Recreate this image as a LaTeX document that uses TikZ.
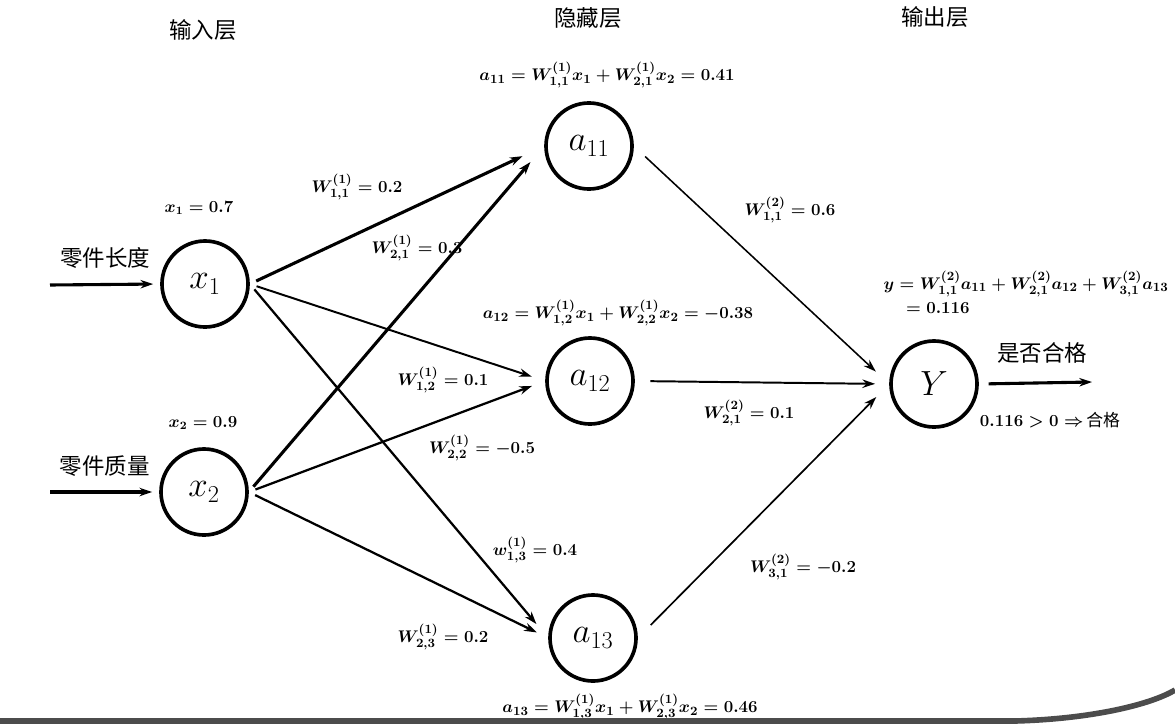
\documentclass[tikz,border=0pt]{standalone}
\usepackage{amsmath}
\usepackage{fontspec}
\newfontfamily\cjk{Noto Sans CJK SC}
\usetikzlibrary{arrows.meta}

\begin{document}
\begin{tikzpicture}[x=0.025cm, y=-0.025cm,
    neuron/.style={draw, circle, line width=2.6pt, minimum size=2.15cm, inner sep=0pt, font=\fontsize{24}{28}\selectfont},
    lbl/.style={inner sep=1pt, font=\fontsize{13}{15}\selectfont\boldmath},
    small/.style={inner sep=1pt, font=\fontsize{11.7}{14}\selectfont\boldmath},
    title/.style={inner sep=1pt, font=\cjk\fontsize{16}{19}\selectfont},
    link/.style={-{Stealth[length=9pt,width=6pt]}, line width=1.6pt}]

\useasboundingbox (0,0) rectangle (1175,723);

% layer titles
\node[title] (tin)  at (203,30) {输入层};
\node[title] (thid) at (588,18) {隐藏层};
\node[title] (tout) at (935,17) {输出层};

% neurons
\node[neuron] (x1)  at (205,284) {$x_1$};
\node[neuron] (x2)  at (204,492) {$x_2$};
\node[neuron] (a11) at (589,146) {$a_{11}$};
\node[neuron] (a12) at (590,381) {$a_{12}$};
\node[neuron] (a13) at (593,638) {$a_{13}$};
\node[neuron] (Y)   at (934,384) {$Y$};

% inputs and output
\coordinate (in1) at (50,285);
\coordinate (in2) at (50,492);
\coordinate (out) at (1092,382);
\draw[link, line width=2.2pt, shorten >=5pt] (in1) -- (x1.west) node[title, midway, above=9pt] (l1) {零件长度};
\draw[link, line width=2.2pt, shorten >=5pt] (in2) -- (x2.west) node[title, midway, above=9pt] (l2) {零件质量};
\draw[link, line width=2.2pt, shorten <=7pt] (Y.east) -- (out);
\node[title] (res) at (1042,353) {是否合格};
\node[small, font=\fontsize{12}{14}\selectfont\boldmath] (dec) at (1050,420) {$0.116>0\Rightarrow$\,{\cjk 合格}};

% input layer -> hidden layer
\draw[link, line width=2.2pt, shorten <=5pt, shorten >=17pt] (x1.east) -- (a11.west);
\draw[link, line width=1.4pt, shorten <=5pt, shorten >=10pt] (x1.east) -- (a12.west);
\draw[link, line width=1.6pt, shorten <=5pt, shorten >=13pt] (x1.east) -- (a13.west);
\draw[link, line width=2.2pt, shorten <=5pt, shorten >=15pt] (x2.east) -- (a11.west);
\draw[link, line width=1.6pt, shorten <=5pt, shorten >=10pt] (x2.east) -- (a12.west);
\draw[link, line width=1.6pt, shorten <=5pt, shorten >=9pt] (x2.east) -- (a13.west);

% hidden layer -> output layer
\draw[link, line width=1.1pt, shorten <=11pt, shorten >=13pt] (a11.east) -- (Y.west);
\draw[link, line width=1.4pt, shorten <=11pt, shorten >=10pt] (a12.east) -- (Y.west);
\draw[link, line width=1.2pt, shorten <=13pt, shorten >=13pt] (a13.east) -- (Y.west);

% values and weights
\node[small] (vx1) at (199,208) {$x_1 = 0.7$};
\node[small] (vx2) at (203,423) {$x_2 = 0.9$};
\node[lbl] (w111) at (357,187) {$W^{(1)}_{1,1} = 0.2$};
\node[lbl] (w121) at (417,248) {$W^{(1)}_{2,1} = 0.3$};
\node[lbl] (w112) at (443,380) {$W^{(1)}_{1,2} = 0.1$};
\node[lbl] (w122) at (482,448) {$W^{(1)}_{2,2} = -0.5$};
\node[lbl] (w113) at (535,550) {$w^{(1)}_{1,3} = 0.4$};
\node[lbl] (w123) at (443,637) {$W^{(1)}_{2,3} = 0.2$};
\node[lbl] (w211) at (790,210) {$W^{(2)}_{1,1} = 0.6$};
\node[lbl] (w221) at (749,413) {$W^{(2)}_{2,1} = 0.1$};
\node[lbl] (w231) at (803,567) {$W^{(2)}_{3,1} = -0.2$};

% hidden sums
\node[lbl] (s11) at (607,75)  {$a_{11} = W^{(1)}_{1,1}x_1 + W^{(1)}_{2,1}x_2 = 0.41$};
\node[lbl] (s12) at (618,313) {$a_{12} = W^{(1)}_{1,2}x_1 + W^{(1)}_{2,2}x_2 = -0.38$};
\node[lbl] (s13) at (630,707) {$a_{13} = W^{(1)}_{1,3}x_1 + W^{(1)}_{2,3}x_2 = 0.46$};
\node[lbl, font=\fontsize{12.6}{15}\selectfont\boldmath, align=left, anchor=west] (sy) at (882,292) {$y = W^{(2)}_{1,1}a_{11} + W^{(2)}_{2,1}a_{12} + W^{(2)}_{3,1}a_{13}$\\[2pt] \hspace*{16pt}$= 0.116$};

% page edge
\draw[line width=4pt, black!70] (0,721) -- (1015,721) .. controls (1090,719) and (1150,705) .. (1175,690);

\end{tikzpicture}
\end{document}
